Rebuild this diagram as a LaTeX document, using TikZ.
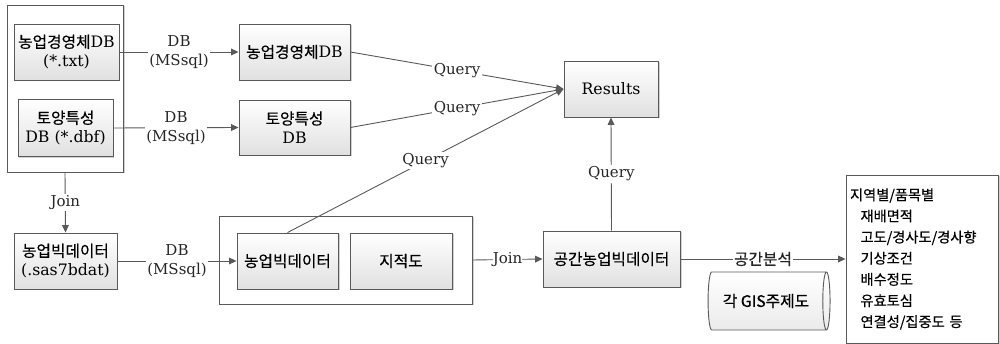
\documentclass[tikz,border=0pt]{standalone}
\usepackage{fontspec}
\setmainfont{DejaVu Serif}
\newfontfamily\kr[FakeBold=0.4]{Noto Sans CJK KR}
\usetikzlibrary{arrows.meta, shapes.geometric, shadows}

\def\pxu{0.667pt}
\tikzset{
    softshadow/.style={drop shadow={shadow xshift=1pt, shadow yshift=-1pt, fill=black!40, opacity=0.45}},
    box/.style={draw=black!65, line width=0.6pt, top color=white, bottom color=black!12,
        align=center, inner sep=1pt, softshadow, font=\fontsize{10.5}{12.7}\selectfont},
    holder/.style={draw=black!65, line width=0.6pt, fill=white, softshadow},
    flow/.style={draw=black!65, line width=0.6pt, -{Triangle[length=5pt, width=4.5pt]}},
    tag/.style={fill=white, inner sep=1pt, align=center, text=black!85, font=\fontsize{10}{12.7}\selectfont},
}

\begin{document}
\begin{tikzpicture}[x=0.667pt, y=-0.667pt]
    \useasboundingbox (0,0) rectangle (1000,344);

    \node[holder, minimum width=116*\pxu, minimum height=167*\pxu] (srcgroup) at (65,88.5) {};
    \node[box, minimum width=105*\pxu, minimum height=56*\pxu] (srcfarm) at (66.5,52) {{\kr 농업경영체}DB\\(*.txt)};
    \node[box, minimum width=95*\pxu, minimum height=57*\pxu] (srcsoil) at (65.5,128) {{\kr 토양특성}\\DB (*.dbf)};

    \node[box, minimum width=111*\pxu, minimum height=56*\pxu] (dbfarm) at (294.5,52) {{\kr 농업경영체}DB};
    \node[box, minimum width=111*\pxu, minimum height=55*\pxu] (dbsoil) at (294.5,127.5) {{\kr 토양특성}\\DB};
    \node[box, minimum width=94*\pxu, minimum height=56*\pxu] (results) at (611,89) {Results};

    \node[box, minimum width=103*\pxu, minimum height=56*\pxu] (bigsrc) at (65.5,261) {{\kr 농업빅데이터}\\(.sas7bdat)};
    \node[holder, minimum width=253*\pxu, minimum height=88*\pxu] (bigframe) at (345.5,260) {};
    \node[box, minimum width=101*\pxu, minimum height=56*\pxu, font=\kr\fontsize{10.5}{12.7}\selectfont] (bigdb) at (287.5,261) {농업빅데이터};
    \node[box, minimum width=102*\pxu, minimum height=56*\pxu, font=\kr\fontsize{10.5}{12.7}\selectfont] (cadastre) at (401,261) {지적도};
    \node[box, minimum width=137*\pxu, minimum height=56*\pxu, font=\kr\fontsize{10.5}{12.7}\selectfont] (spatial) at (611.5,259) {공간농업빅데이터};

    \node[cylinder, draw=black!65, line width=0.6pt, top color=white, bottom color=black!8, aspect=0.3,
        minimum width=58*\pxu, minimum height=122*\pxu, font=\kr\fontsize{10.5}{12.7}\selectfont] (gismap) at (766,301) {각 GIS주제도};

    \node[holder, minimum width=152*\pxu, minimum height=168*\pxu, text width=96pt, align=left, inner xsep=2pt,
        font=\kr\fontsize{9.5}{14.1}\selectfont] (outlist) at (922,259)
        {지역별/품목별\\\hspace*{7pt}재배면적\\\hspace*{7pt}고도/경사도/경사향\\\hspace*{7pt}기상조건\\\hspace*{7pt}배수정도\\\hspace*{7pt}유효토심\\\hspace*{7pt}연결성/집중도 등};

    \draw[flow] (srcfarm.east) -- node[tag] {DB\\(MSsql)} (dbfarm.west);
    \draw[flow] (srcsoil.east) -- node[tag] {DB\\(MSsql)} (dbsoil.west);
    \draw[flow] (srcgroup.south) -- node[tag] {Join} (bigsrc.north);
    \draw[flow] (bigsrc.east) -- node[tag] {DB\\(MSsql)} (bigdb.west);

    \draw[flow] (dbfarm.east) -- node[tag] {Query} (results.west);
    \draw[flow] (dbsoil.east) -- node[tag] {Query} (results.west);
    \draw[flow] (bigdb.north) -- node[tag] {Query} (results.west);
    \draw[flow] (spatial.north) -- node[tag] {Query} (results.south);

    \draw[flow] (bigframe.east) -- node[tag, inner xsep=0pt] {Join} (spatial.west);
    \draw[flow] (spatial.east) -- node[tag, font=\kr\fontsize{10.5}{12.7}\selectfont] {공간분석} (outlist.west);
\end{tikzpicture}
\end{document}
